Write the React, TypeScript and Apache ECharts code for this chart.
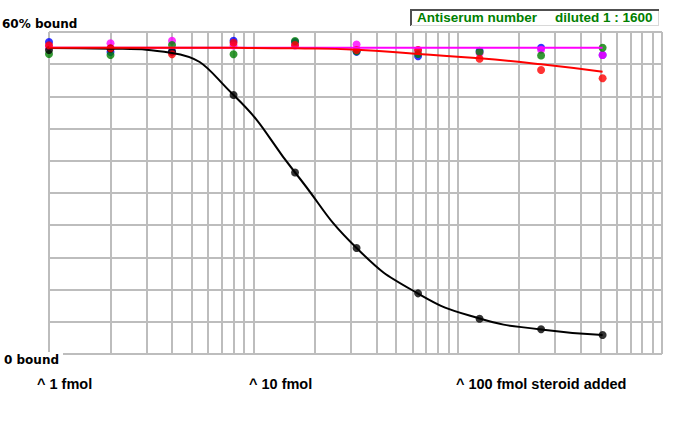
import React, { useEffect, useRef } from "react";
import * as echarts from "echarts";

// fmol steroid added (log scale)
const X_VALUES = [1, 2, 4, 8, 16, 32, 64, 128, 256, 512];
// vertical grid positions (log decades 1..1000)
const X_GRID = [1, 2, 3, 4, 5, 6, 7, 8, 9, 10, 20, 30, 40, 50, 60, 70, 80, 90, 100, 200, 300, 400, 500, 600, 700, 800, 900, 1000];

// % bound – measured points
const BLUE_PTS = [58.13, 56.27, 56.27, 58.38, 58.13, 56.3, 55.47, 56.51, 57.07, 55.71];
const MAGENTA_PTS = [57.3, 57.9, 58.38, 57.48, 57.5, 57.67, 56.6, 56.03, 56.7, 55.71];
const GREEN_PTS = [55.9, 55.71, 57.57, 55.84, 58.32, 56.4, 55.9, 56.27, 55.62, 57.07];
const RED_PTS = [57.52, 56.96, 55.84, 58.0, 57.57, 56.64, 56.64, 55.02, 52.92, 51.37];
const BLACK_PTS = [56.64, 56.93, 56.4, 48.26, 33.82, 19.75, 11.3, 6.58, 4.6, 3.54];

// fitted curves
const MAGENTA_FIT = [57.07, 57.07, 57.07, 57.07, 57.07, 57.07, 57.07, 57.07, 57.07, 57.07];
const BLACK_FIT = [57.02, 56.9, 56.1, 48.26, 33.82, 19.75, 11.27, 6.61, 4.57, 3.54];
const RED_FIT = [57.07, 57.07, 57.07, 57.05, 56.96, 56.7, 55.9, 55.1, 53.98, 52.6];

const pairs = (ys: number[]) => X_VALUES.map((x, i) => [x, ys[i]]);

const LABEL_FONT = "'DejaVu Sans', sans-serif";
const AXIS_FONT = "'Liberation Sans', Arial, sans-serif";

export default function App() {
  const ref = useRef<HTMLDivElement>(null);
  useEffect(() => {
    document.body.style.margin = "0";
    const chart = echarts.init(ref.current!, null, { renderer: "svg" });
    const scatter = (color: string, data: number[]) => ({
      type: "scatter",
      data: pairs(data),
      symbol: "circle",
      symbolSize: 8,
      itemStyle: { color },
      silent: true,
      z: 3,
    });
    const fit = (color: string, data: number[], z: number) => ({
      type: "line",
      data: pairs(data),
      smooth: 0.5,
      showSymbol: false,
      symbol: "none",
      lineStyle: { color, width: 2 },
      silent: true,
      z,
    });
    chart.setOption({
      animation: false,
      backgroundColor: "#ffffff",
      grid: { left: 49, right: 31, top: 32, bottom: 76, containLabel: false },
      xAxis: {
        type: "log",
        logBase: 10,
        min: 1,
        max: 1000,
        axisLine: { show: false },
        axisTick: { show: false },
        axisLabel: { show: false },
        splitLine: { show: false },
      },
      yAxis: {
        type: "value",
        min: 0,
        max: 60,
        interval: 6,
        axisLine: { show: false },
        axisTick: { show: false },
        axisLabel: { show: false },
        splitLine: { show: true, lineStyle: { color: "#bdbdbd", width: 2, type: "solid" } },
      },
      series: [
        {
          type: "line",
          data: [],
          silent: true,
          z: 0,
          markLine: {
            z: 0,
            silent: true,
            symbol: "none",
            label: { show: false },
            lineStyle: { color: "#bdbdbd", width: 2, type: "solid" },
            data: X_GRID.map((v) => ({ xAxis: v })),
          },
        },
        scatter("#0000ff", BLUE_PTS),
        scatter("#ff00ff", MAGENTA_PTS),
        scatter("#008000", GREEN_PTS),
        scatter("#000000", BLACK_PTS),
        scatter("#ff0000", RED_PTS),
        fit("#ff00ff", MAGENTA_FIT, 4),
        fit("#000000", BLACK_FIT, 5),
        fit("#ff0000", RED_FIT, 6),
      ],
      graphic: [
        {
          type: "text",
          x: 2,
          y: 24,
          z: 100,
          style: { text: "60% bound", font: `bold 12px ${LABEL_FONT}`, fill: "#000", verticalAlign: "middle" },
        },
        { type: "rect", x: 0, y: 352, z: 99, shape: { width: 63, height: 14 }, style: { fill: "#ffffff" } },
        {
          type: "text",
          x: 4,
          y: 360,
          z: 100,
          style: { text: "0 bound", font: `bold 12px ${LABEL_FONT}`, fill: "#000", verticalAlign: "middle" },
        },
        {
          type: "text",
          x: 37,
          y: 383.5,
          z: 100,
          style: { text: "^ 1 fmol", font: `bold 14.5px ${AXIS_FONT}`, fill: "#000", verticalAlign: "middle" },
        },
        {
          type: "text",
          x: 249,
          y: 383.5,
          z: 100,
          style: { text: "^ 10 fmol", font: `bold 14.5px ${AXIS_FONT}`, fill: "#000", verticalAlign: "middle" },
        },
        {
          type: "text",
          x: 456,
          y: 383.5,
          z: 100,
          style: { text: "^ 100 fmol steroid added", font: `bold 14.5px ${AXIS_FONT}`, fill: "#000", verticalAlign: "middle" },
        },
        { type: "rect", x: 410, y: 10, z: 100, shape: { width: 249, height: 16 }, style: { fill: "#ffffff" } },
        { type: "line", z: 101, shape: { x1: 410, y1: 10, x2: 659, y2: 10 }, style: { stroke: "#505050", lineWidth: 2 } },
        { type: "line", z: 101, shape: { x1: 411, y1: 10, x2: 411, y2: 26 }, style: { stroke: "#505050", lineWidth: 2 } },
        { type: "line", z: 101, shape: { x1: 411, y1: 25.5, x2: 659, y2: 25.5 }, style: { stroke: "#d8d8d8", lineWidth: 1 } },
        { type: "line", z: 101, shape: { x1: 658.5, y1: 11, x2: 658.5, y2: 26 }, style: { stroke: "#d8d8d8", lineWidth: 1 } },
        {
          type: "text",
          x: 417,
          y: 17.5,
          z: 102,
          style: { text: "Antiserum number", font: `bold 13.5px ${AXIS_FONT}`, fill: "#008000", verticalAlign: "middle" },
        },
        {
          type: "text",
          x: 555,
          y: 17.5,
          z: 102,
          style: { text: "diluted 1 : 1600", font: `bold 13.5px ${AXIS_FONT}`, fill: "#008000", verticalAlign: "middle" },
        },
      ],
    });
    return () => chart.dispose();
  }, []);
  return <div ref={ref} style={{ width: 693, height: 430, background: "#fff" }} />;
}
